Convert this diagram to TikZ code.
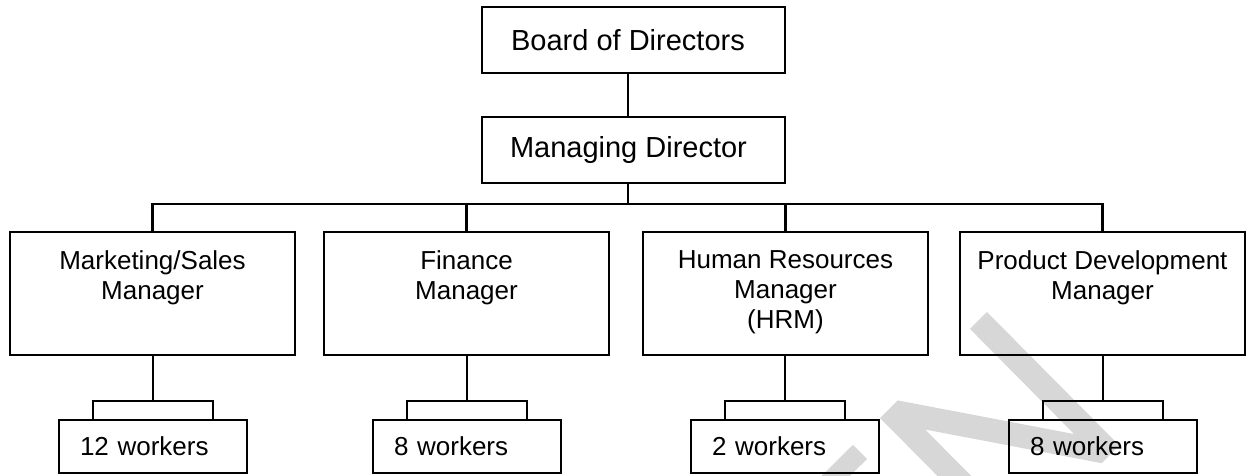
\documentclass[tikz,border=0pt]{standalone}
\usepackage{fontspec}
\setmainfont{Liberation Sans}
\definecolor{wm}{HTML}{D7D7D7}
\begin{document}
\begin{tikzpicture}[x=1pt,y=-1pt,line width=2.6pt,
  topbox/.style={draw,rectangle,inner sep=0pt,minimum width=303pt,minimum height=66pt,font=\fontsize{29}{34}\selectfont},
  mgrbox/.style={draw,rectangle,inner sep=0pt,minimum width=285pt,minimum height=123pt},
  mgrtext/.style={anchor=north,inner sep=0pt,align=center,font=\fontsize{26}{30}\selectfont},
  capbox/.style={draw,rectangle,inner sep=0pt,minimum width=120pt,minimum height=19pt},
  wrkbox/.style={draw,rectangle,inner ysep=0pt,inner xsep=21pt,minimum width=188pt,minimum height=53pt,text width=146pt,align=left,font=\fontsize{26}{30}\selectfont},
  wmark/.style={fill=wm,draw=none}]
\useasboundingbox (0,0) rectangle (1248,475);
% watermark
\begin{scope}[shift={(880,418)},x={(0.7105pt,0.7039pt)},y={(0.7039pt,-0.7105pt)}]
  \fill[wmark] (0,0) -- (25,0) -- (126.6,148) -- (126.6,0) -- (150.6,0) -- (150.6,188)
    -- (125.6,188) -- (24,40) -- (24,188) -- (0,188) -- cycle;
  \fill[wmark] (-38,0) -- (-38,20) -- (-200,20) -- (-200,0) -- cycle;
\end{scope}
\coordinate (sx) at (628,0);
\coordinate (bus) at (0,204);
\node[topbox] (bod) at (633.5,40) {Board of Directors\kern11pt};
\node[topbox] (md) at (633.5,150) {Managing Director\kern10pt};
\node[mgrbox] (m1) at (152.5,293.5) {};
\node[mgrbox] (m2) at (466.5,293.5) {};
\node[mgrbox] (m3) at (785.5,293.5) {};
\node[mgrbox] (m4) at (1102.5,293.5) {};
\node[mgrtext] (t1) at ([yshift=-18.5pt]m1.north) {Marketing/Sales\\Manager};
\node[mgrtext] (t2) at ([yshift=-18.5pt]m2.north) {Finance\\Manager};
\node[mgrtext] (t3) at ([yshift=-18.5pt]m3.north) {Human Resources\\Manager\\(HRM)};
\node[mgrtext] (t4) at ([yshift=-18.5pt]m4.north) {Product Development\\Manager};
\foreach \i/\x/\n in {1/153/12,2/467/8,3/785/2,4/1103/8}{
  \node[capbox] (c\i) at (\x,410.5) {};
  \node[wrkbox] (w\i) at (\x,446.5) {\n\ workers};
  \draw (m\i.south -| c\i.north) -- (c\i.north);
}
\draw (bod.south -| sx) -- (md.north -| sx);
\draw (md.south -| sx) -- (sx |- bus);
\draw (m1.north) -- (m1.north |- bus) -- (m4.north |- bus) -- (m4.north);
\draw (m2.north) -- (m2.north |- bus);
\draw (m3.north) -- (m3.north |- bus);
\end{tikzpicture}
\end{document}
